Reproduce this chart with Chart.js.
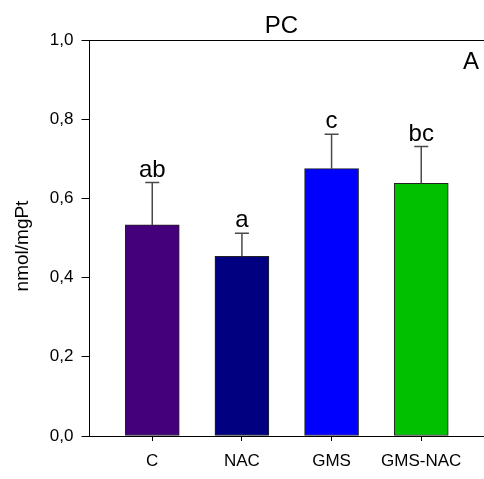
<!DOCTYPE html>
<html>
<head>
<meta charset="utf-8">
<script src="https://cdn.jsdelivr.net/npm/chart.js@4/dist/chart.umd.min.js"></script>
<style>
html,body{margin:0;padding:0;background:#fff;}
#wrap{width:484px;height:479px;position:relative;}
</style>
</head>
<body>
<div id="wrap"><canvas id="c"></canvas></div>
<script>
const categories = ["C", "NAC", "GMS", "GMS-NAC"];
const means = [0.533, 0.454, 0.675, 0.638];
const errors = [0.107, 0.058, 0.087, 0.093];
const letters = ["ab", "a", "c", "bc"];
const barColors = ["#44007A", "#000080", "#0000FF", "#00C000"];
const yTicks = [0, 0.2, 0.4, 0.6, 0.8, 1.0];
const titleText = "PC";
const panelText = "A";
const yTitle = "nmol/mgPt";

const FONT = "'Liberation Sans', Arial, sans-serif";

const annotate = {
  id: "annotate",
  afterDatasetsDraw(chart) {
    const ctx = chart.ctx;
    const xs = chart.scales.x, ys = chart.scales.y;
    const ca = chart.chartArea;
    ctx.save();
    // top frame line
    ctx.strokeStyle = "#000";
    ctx.lineWidth = 1;
    ctx.beginPath();
    ctx.moveTo(ca.left, Math.round(ca.top) + 0.5);
    ctx.lineTo(ca.right, Math.round(ca.top) + 0.5);
    ctx.stroke();
    // error bars
    ctx.strokeStyle = "#4a4a4a";
    ctx.lineWidth = 1.5;
    means.forEach((m, i) => {
      const x = xs.getPixelForValue(i + 1);
      const y0 = ys.getPixelForValue(m);
      const y1 = ys.getPixelForValue(m + errors[i]);
      ctx.beginPath();
      ctx.moveTo(x, y0);
      ctx.lineTo(x, y1);
      ctx.moveTo(x - 7, y1);
      ctx.lineTo(x + 7, y1);
      ctx.stroke();
      ctx.fillStyle = "#000";
      ctx.font = "24px " + FONT;
      ctx.textAlign = "center";
      ctx.textBaseline = "alphabetic";
      ctx.fillText(letters[i], x, y1 - 6);
    });
    // title
    ctx.fillStyle = "#000";
    ctx.font = "24px " + FONT;
    ctx.textAlign = "center";
    ctx.textBaseline = "alphabetic";
    ctx.fillText(titleText, 281.5, 33);
    // panel letter
    ctx.textAlign = "right";
    ctx.fillText(panelText, 479, 69);
    // y axis title
    ctx.save();
    ctx.translate(28, 246);
    ctx.rotate(-Math.PI / 2);
    ctx.font = "19px " + FONT;
    ctx.textAlign = "center";
    ctx.textBaseline = "alphabetic";
    ctx.fillText(yTitle, 0, 0);
    ctx.restore();
    ctx.restore();
  }
};

new Chart(document.getElementById("c"), {
  type: "bar",
  data: {
    datasets: [{
      data: means.map((v, i) => ({ x: i + 1, y: v })),
      backgroundColor: barColors,
      borderColor: "#222",
      borderWidth: 1,
      borderSkipped: false,
      barThickness: 54
    }]
  },
  options: {
    responsive: true,
    maintainAspectRatio: false,
    animation: false,
    layout: { padding: { top: 40, right: 0, left: 0, bottom: 0 } },
    plugins: { legend: { display: false }, tooltip: { enabled: false }, title: { display: false } },
    scales: {
      x: {
        type: "linear",
        min: 0.3,
        max: 4.7,
        offset: false,
        afterBuildTicks(scale) { scale.ticks = categories.map((c, i) => ({ value: i + 1 })); },
        afterFit(scale) { scale.height = 43; },
        border: { display: true, color: "#000", width: 1 },
        grid: { display: true, offset: false, drawOnChartArea: false, drawTicks: true, tickLength: 5, color: "#000", lineWidth: 1 },
        ticks: {
          autoSkip: false,
          maxRotation: 0,
          padding: 10,
          color: "#000",
          font: { family: FONT, size: 17 },
          callback: (v) => categories[Math.round(v) - 1] || ""
        }
      },
      y: {
        min: 0,
        max: 1,
        afterBuildTicks(scale) { scale.ticks = yTicks.map(v => ({ value: v })); },
        afterFit(scale) { scale.width = 89.5; },
        border: { display: true, color: "#000", width: 1 },
        grid: { display: true, drawOnChartArea: false, drawTicks: true, tickLength: 8, color: "#000", lineWidth: 1 },
        ticks: {
          padding: 8,
          color: "#000",
          font: { family: FONT, size: 17 },
          callback: (v) => v.toFixed(1).replace(".", ",")
        }
      }
    }
  },
  plugins: [annotate]
});
</script>
</body>
</html>
